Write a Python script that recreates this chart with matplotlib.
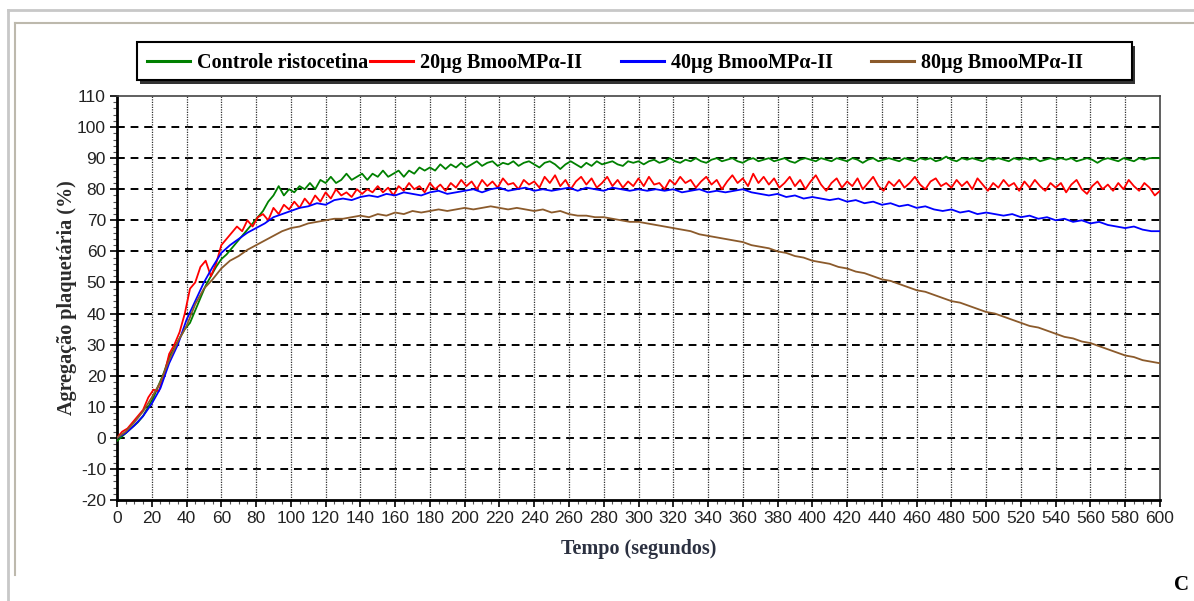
import numpy as np
import matplotlib
matplotlib.use("Agg")
import matplotlib.pyplot as plt
from matplotlib.lines import Line2D
from matplotlib.patches import Rectangle
from matplotlib.ticker import MultipleLocator

# Series names (legend)
labels = ["Controle ristocetina", "20µg BmooMPα-II", "40µg BmooMPα-II", "80µg BmooMPα-II"]
colors = ["#008000", "#ff0000", "#0000ff", "#8b5a2b"]

# Controle ristocetina, one reading every 3 s (0..600)
green = [
    -1, 0.5, 2, 3.5, 5, 7, 10, 13, 17, 21,
    26, 29, 32, 35, 37, 41, 45, 49, 52, 55,
    57.5, 59, 61, 63, 65, 67, 69, 71, 73, 76,
    78, 81, 78, 80, 79, 81, 80, 82, 80, 83,
    82, 84, 82, 83, 85, 83, 84, 85, 83, 85,
    84, 86, 84, 85, 86, 84, 86, 85, 87, 86,
    87, 86, 88, 86.5, 88, 87, 88.5, 87, 88, 89,
    87.5, 88.5, 89, 87.5, 88.5, 88, 89, 87.5, 88.5, 89,
    88, 87, 88.5, 89, 88, 86.5, 88, 89, 88, 87,
    88.5, 87.5, 89, 88, 88.5, 89, 88, 87.5, 89, 88.5,
    89, 88, 89, 89.5, 88.5, 89, 90, 89, 88.5, 89.5,
    89, 90, 89, 88.5, 89.5, 90, 89, 89.5, 90, 89,
    88.5, 89.5, 90, 89, 89.5, 90, 89, 89.5, 90, 89,
    88.5, 89.5, 90, 89.5, 89, 90, 89.5, 89, 90, 89.5,
    89, 90, 89.5, 88.5, 89.5, 90, 89, 89.5, 90, 89.5,
    89, 90, 89.5, 89, 90, 89.5, 90, 89, 89.5, 90.5,
    89.5, 89, 90, 89.5, 90, 89.5, 89, 90, 89.5, 90,
    89.5, 89, 90, 89.5, 90, 89.5, 90, 89, 89.5, 90,
    89.5, 90, 89.5, 90, 89, 89.5, 90, 89.5, 88.5, 89.5,
    90, 89.5, 89, 90, 89.5, 89, 90, 89.5, 90, 90,
    90,
]

# 20µg, one reading every 3 s
red = [
    0, 2, 3, 5, 7, 9, 13, 15.5, 15, 20,
    27, 30, 34, 40, 48, 50, 55, 57, 52, 56,
    62, 64, 66, 68, 66.5, 70, 68, 71, 72, 70,
    74, 72, 75, 73.5, 76, 74, 77, 75, 78, 76,
    79, 77, 80, 78, 79, 77.5, 80, 78.5, 80, 79,
    81, 79, 80.5, 78, 81, 79.5, 82, 80, 81, 79,
    82, 80, 81.5, 79.5, 82, 80.5, 83, 81, 82.5, 80,
    83, 81, 82.5, 80.5, 83.5, 81.5, 82, 80, 83, 81.5,
    82.5, 80.5, 84, 82, 84.5, 81, 83, 80, 82.5, 84,
    81.5, 83.5, 80.5, 82, 84, 81, 83, 80.5, 82.5, 81,
    83.5, 81, 84, 81.5, 82, 80, 83, 81.5, 84, 82,
    83, 80.5, 82.5, 84, 81.5, 83, 80, 82.5, 84.5, 82,
    83.5, 81, 85, 82, 84, 81.5, 83.5, 80.5, 82, 84,
    81, 83, 80, 82.5, 84.5, 81.5, 79.5, 82, 83.5, 80.5,
    82.5, 81, 83.5, 80, 82, 84, 81, 79.5, 82.5, 81,
    83, 80.5, 82, 84, 81.5, 80, 82.5, 83.5, 81, 82,
    80.5, 83, 81, 82.5, 80, 83.5, 81.5, 79.5, 82, 80.5,
    83, 81, 82, 79.5, 82.5, 80.5, 83, 81, 79.5, 82,
    80.5, 82, 79, 81.5, 83, 80, 78.5, 81, 82.5, 80,
    81.5, 79.5, 82, 80, 83, 81, 79.5, 82, 80.5, 78,
    79.5,
]

# 40µg, one reading every 5 s
blue = [
    0, 1.5, 4, 7, 11, 16, 24, 30, 38, 44,
    50, 55, 59.5, 62, 64, 66, 67.5, 69, 71, 72,
    73, 74, 74.5, 75.5, 75, 76.5, 77, 76.5, 77.5, 78,
    77.5, 78.5, 78, 79, 78.5, 78, 79, 79.5, 78.5, 79,
    79.5, 80, 79, 80, 80.5, 79.5, 80, 80.5, 79.5, 80,
    79.5, 80, 80.5, 79.5, 80.5, 80, 79.5, 80.5, 80, 79.5,
    80, 79.5, 80, 79.5, 80, 79, 79.5, 80, 79, 79.5,
    79, 79.5, 80, 79, 78.5, 78, 78.5, 77.5, 78, 77,
    77.5, 77, 76.5, 77, 76, 76.5, 75.5, 76, 75, 75.5,
    74.5, 75, 74, 74.5, 73.5, 73, 73.5, 72.5, 73, 72,
    72.5, 72, 71.5, 72, 71, 71.5, 70.5, 71, 70, 70.5,
    69.5, 70, 69, 69.5, 68.5, 68, 67.5, 68, 67, 66.5,
    66.5,
]

# 80µg, one reading every 5 s
brown = [
    0, 2, 5, 8.5, 13, 18, 25, 31, 36, 43,
    48, 51, 54.5, 57, 58.5, 60.5, 62, 63.5, 65, 66.5,
    67.5, 68, 69, 69.5, 70, 70.5, 70.5, 71, 71.5, 71,
    72, 71.5, 72.5, 72, 73, 72.5, 73, 73.5, 73, 73.5,
    74, 73.5, 74, 74.5, 74, 73.5, 74, 73.5, 73, 73.5,
    72.5, 73, 72, 71.5, 71.5, 71, 71, 70.5, 70, 69.5,
    69.5, 69, 68.5, 68, 67.5, 67, 66.5, 65.5, 65, 64.5,
    64, 63.5, 63, 62, 61.5, 61, 60, 59.5, 58.5, 58,
    57, 56.5, 56, 55, 54.5, 53.5, 53, 52, 51, 50.5,
    49.5, 48.5, 47.5, 47, 46, 45, 44, 43.5, 42.5, 41.5,
    40.5, 40, 39, 38, 37, 36, 35.5, 34.5, 33.5, 32.5,
    32, 31, 30.5, 29.5, 28.5, 27.5, 26.5, 26, 25, 24.5,
    24,
]

t_fine = np.arange(len(green)) * 3
t_coarse = np.arange(len(blue)) * 5
series = [(t_fine, green), (t_fine, red), (t_coarse, blue), (t_coarse, brown)]

serif = ["Liberation Serif", "DejaVu Serif"]
plt.rcParams["font.family"] = ["Liberation Sans", "DejaVu Sans"]
plt.rcParams["axes.unicode_minus"] = False

W, H = 1194, 601
fig = plt.figure(figsize=(W / 100, H / 100), dpi=100)
ax = fig.add_axes([117 / W, 1 - 500 / H, (1160 - 117) / W, (500 - 96) / H])

for (t, y), c, lab in zip(series, colors, labels):
    ax.plot(t, y, color=c, lw=1.3, label=lab, zorder=3)

ax.set_xlim(0, 600)
ax.set_ylim(-20, 110)
ax.xaxis.set_major_locator(MultipleLocator(20))
ax.xaxis.set_minor_locator(MultipleLocator(5))
ax.yaxis.set_major_locator(MultipleLocator(10))
ax.yaxis.set_minor_locator(MultipleLocator(2))
ax.tick_params(which="major", length=5, width=1.2, labelsize=12.5, labelcolor="#222222", pad=3)
ax.tick_params(which="minor", length=3, width=0.8, color="#555555")

# grid: bold dashes across, fine dots down
for v in np.arange(-10, 110, 10):
    ax.axhline(v, color="black", lw=1.4, ls=(0, (4, 3)), zorder=1)
for v in np.arange(20, 600, 20):
    ax.axvline(v, color="#333333", lw=0.9, ls=(0, (1, 1)), zorder=1)

for s in ["left", "bottom"]:
    ax.spines[s].set_linewidth(2)
    ax.spines[s].set_color("black")
for s in ["top", "right"]:
    ax.spines[s].set_linewidth(1.2)
    ax.spines[s].set_color("#444444")

ax.set_xlabel("Tempo (segundos)", family=serif, fontweight="bold", fontsize=14.5,
              color="#2b3040", labelpad=9)
ax.set_ylabel("Agregação plaquetária (%)", family=serif, fontweight="bold", fontsize=14.5,
              color="#2b2b2b", labelpad=0)

# legend box with shadow, entries placed like the original
fig.add_artist(Rectangle((140 / W, 1 - 84 / H), 995 / W, 38 / H, transform=fig.transFigure,
                         facecolor="#333333", edgecolor="none", zorder=4))
fig.add_artist(Rectangle((137 / W, 1 - 80 / H), 995 / W, 38 / H, transform=fig.transFigure,
                         facecolor="white", edgecolor="black", lw=1.5, zorder=5))
entry_x = [147, 370, 621, 871]
for c, lab, x in zip(colors, labels, entry_x):
    lg = fig.legend([Line2D([], [], color=c, lw=2.2)], [lab], loc="center left",
                    bbox_to_anchor=(x / W, 1 - 63 / H), frameon=False,
                    handlelength=2.15, handletextpad=0.35, borderpad=0, borderaxespad=0,
                    prop={"family": serif, "weight": "bold", "size": 14.5})
    lg.set_zorder(6)

# page frame lines
fig.add_artist(Line2D([8 / W, 1], [1 - 10 / H] * 2, color="#c8c8c8", lw=2))
fig.add_artist(Line2D([8 / W] * 2, [1 - 10 / H, 0], color="#c8c8c8", lw=2))
fig.add_artist(Line2D([15 / W, 1], [1 - 23 / H] * 2, color="#bdb9ad", lw=1.5))
fig.add_artist(Line2D([15 / W] * 2, [1 - 23 / H, 1 - 575 / H], color="#bdb9ad", lw=1.5))

fig.text(1174 / W, 1 - 585 / H, "C", family=serif, fontweight="bold", fontsize=15,
         ha="left", va="center")

fig.savefig("out.png", dpi=100)
